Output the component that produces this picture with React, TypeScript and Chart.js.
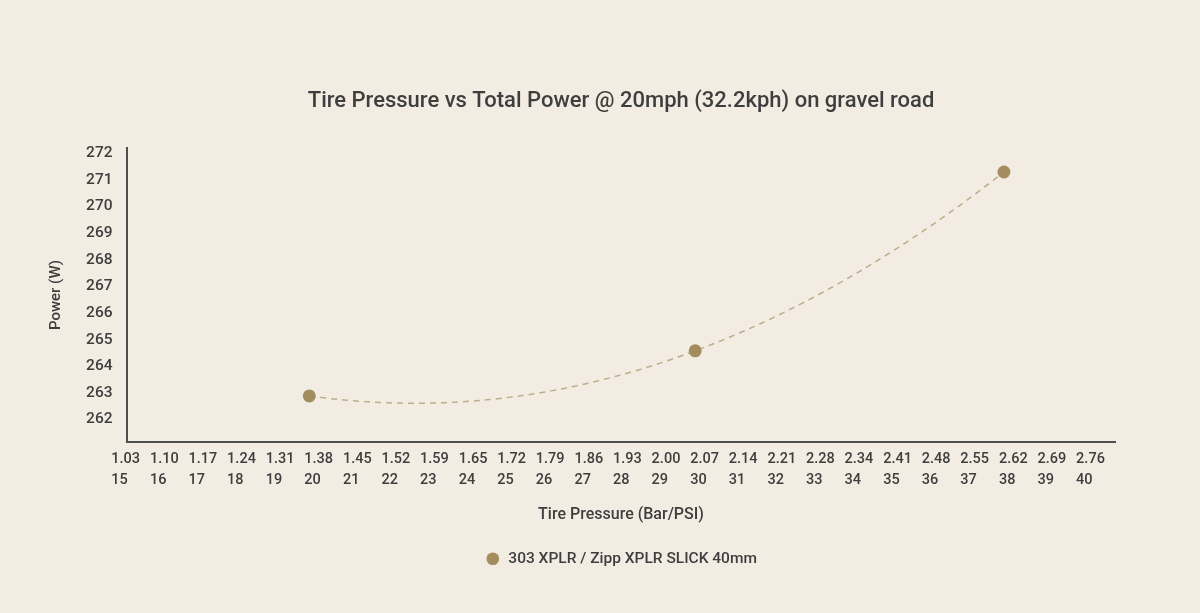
import React, { useEffect, useRef } from 'react';
import { Chart, registerables } from 'chart.js';

Chart.register(...registerables);

// ---- data ----
const psiTicks = [15, 16, 17, 18, 19, 20, 21, 22, 23, 24, 25, 26, 27, 28, 29, 30, 31, 32, 33, 34, 35, 36, 37, 38, 39, 40];
const barTicks = ['1.03', '1.10', '1.17', '1.24', '1.31', '1.38', '1.45', '1.52', '1.59', '1.65', '1.72', '1.79', '1.86', '1.93', '2.00', '2.07', '2.14', '2.21', '2.28', '2.34', '2.41', '2.48', '2.55', '2.62', '2.69', '2.76'];
const powerTicks = [262, 263, 264, 265, 266, 267, 268, 269, 270, 271, 272];
const pressurePsi = [20, 30, 38];
const powerW = [262.89, 264.58, 271.29];
const seriesLabel = '303 XPLR / Zipp XPLR SLICK 40mm';
const chartTitle = 'Tire Pressure vs Total Power @ 20mph (32.2kph) on gravel road';
const xTitle = 'Tire Pressure (Bar/PSI)';
const yTitle = 'Power (W)';

// ---- style ----
const BG = '#f3ece2';
const TEXT = '#3e3e3e';
const AXIS = '#4f4f4f';
const POINT = '#a38c5d';
const TREND = '#bcae8b';
const FONT = 'Roboto, "Noto Sans", sans-serif';

// dashed quadratic trend line through the measured points
const trendPlugin = {
  id: 'quadTrend',
  beforeDatasetsDraw(chart: any) {
    const xs = pressurePsi;
    const ys = powerW;
    const f = (x: number) => {
      let s = 0;
      for (let i = 0; i < xs.length; i++) {
        let t = ys[i];
        for (let j = 0; j < xs.length; j++) {
          if (j !== i) t *= (x - xs[j]) / (xs[i] - xs[j]);
        }
        s += t;
      }
      return s;
    };
    const xs0 = xs[0];
    const xs1 = xs[xs.length - 1];
    const xScale = chart.scales.x;
    const yScale = chart.scales.y;
    const ctx = chart.ctx;
    ctx.save();
    ctx.setLineDash([6, 5]);
    ctx.lineWidth = 1.5;
    ctx.strokeStyle = TREND;
    ctx.beginPath();
    const steps = 200;
    for (let k = 0; k <= steps; k++) {
      const x = xs0 + ((xs1 - xs0) * k) / steps;
      const px = xScale.getPixelForValue(x);
      const py = yScale.getPixelForValue(f(x));
      if (k === 0) ctx.moveTo(px, py);
      else ctx.lineTo(px, py);
    }
    ctx.stroke();
    ctx.restore();
  },
};

export default function App() {
  const ref = useRef<HTMLCanvasElement>(null);

  useEffect(() => {
    document.body.style.margin = '0';
    document.body.style.background = BG;
    const chart = new Chart(ref.current as HTMLCanvasElement, {
      type: 'scatter',
      data: {
        datasets: [
          {
            label: seriesLabel,
            data: pressurePsi.map((x, i) => ({ x, y: powerW[i] })),
            backgroundColor: POINT,
            borderColor: POINT,
            borderWidth: 0,
            pointRadius: 6.5,
            pointHoverRadius: 6.5,
            pointStyle: 'circle',
          },
        ],
      },
      options: {
        responsive: false,
        animation: false,
        layout: { padding: { top: 0, left: 30, right: 85, bottom: 36.5 } },
        plugins: {
          title: {
            display: true,
            text: chartTitle,
            color: TEXT,
            fullSize: false,
            font: { family: FONT, size: 22, weight: '500', lineHeight: 1.2 },
            padding: { top: 88, bottom: 33.6 },
          },
          legend: {
            display: true,
            position: 'bottom',
            fullSize: false,
            labels: {
              usePointStyle: true,
              pointStyle: 'circle',
              boxWidth: 16,
              boxHeight: 9,
              padding: 10,
              color: TEXT,
              font: { family: FONT, size: 15.5, weight: '500' },
            },
          },
          tooltip: { enabled: false },
        },
        scales: {
          x: {
            type: 'linear',
            min: 15.276,
            max: 40.878,
            grid: { display: false, drawTicks: false },
            border: { display: true, color: AXIS, width: 2 },
            afterBuildTicks: (scale: any) => {
              scale.ticks = psiTicks.map((v) => ({ value: v }));
            },
            afterFit: (scale: any) => {
              scale.height = 99;
            },
            ticks: {
              autoSkip: false,
              maxRotation: 0,
              minRotation: 0,
              align: 'start',
              labelOffset: -5,
              padding: 7.3,
              color: TEXT,
              font: { family: FONT, size: 14.5, weight: '500', lineHeight: 1.45 },
              callback: (_v: any, i: number) => [barTicks[i], String(psiTicks[i])],
            },
            title: {
              display: true,
              text: xTitle,
              color: TEXT,
              font: { family: FONT, size: 16, weight: '500', lineHeight: 1.2 },
              padding: { top: 15.6, bottom: 16.4 },
            },
          },
          y: {
            type: 'linear',
            min: 261.16,
            max: 272.19,
            grid: { display: false, drawTicks: false },
            border: { display: true, color: AXIS, width: 2 },
            afterBuildTicks: (scale: any) => {
              scale.ticks = powerTicks.map((v) => ({ value: v }));
            },
            afterFit: (scale: any) => {
              scale.width = 97;
            },
            ticks: {
              autoSkip: false,
              padding: 14.5,
              color: TEXT,
              font: { family: FONT, size: 15.5, weight: '500' },
              callback: (v: any) => String(v),
            },
            title: {
              display: true,
              text: yTitle,
              color: TEXT,
              font: { family: FONT, size: 15, weight: '500', lineHeight: 1.2 },
              padding: { top: 17.7, bottom: 0 },
            },
          },
        },
      },
      plugins: [trendPlugin],
    } as any);
    return () => chart.destroy();
  }, []);

  return (
    <div style={{ width: 1200, height: 613, background: BG }}>
      <canvas ref={ref} width={1200} height={613} style={{ display: 'block' }} />
    </div>
  );
}
